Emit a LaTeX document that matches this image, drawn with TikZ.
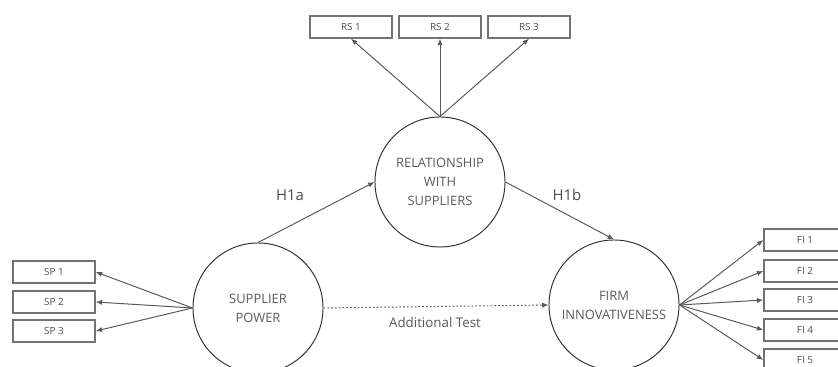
\documentclass[tikz,border=0pt]{standalone}
\usepackage{fontspec}
\setmainfont{Open Sans}
\usetikzlibrary{arrows.meta}

\begin{document}
\begin{tikzpicture}[
    % GLOBAL CFG
    x=0.025cm, y=-0.025cm,
    font=\fontsize{9.2}{13.5}\selectfont,
    >={Latex[length=1.6mm,width=1.3mm]},
    % Styles
    construct/.style={% For the latent constructs
        circle,
        draw=black!80,
        line width=0.7pt,
        minimum size=3.25cm,
        inner sep=0pt,
        align=center,
        text=black!65,
        },
    item/.style={% For the indicator boxes
        rectangle,
        draw=black!55,
        line width=1pt,
        minimum width=2.05cm,
        minimum height=0.55cm,
        inner sep=1pt,
        font=\fontsize{7}{8}\selectfont,
        text=black!70,
        },
    hyp/.style={% For the hypothesis labels
        font=\fontsize{10.6}{12}\selectfont,
        text=black!70,
        },
    note/.style={% For the dotted test label
        font=\fontsize{9.5}{11}\selectfont,
        text=black!65,
        },
    ArrowL/.style={% Loading and path arrows
        ->,
        draw=black!65,
        line width=0.7pt,
        }
    ]

    \useasboundingbox (0,0) rectangle (838,367);

    % Draw the constructs
    \node [construct] (rs) at (440,182) {RELATIONSHIP\\WITH\\SUPPLIERS};
    \node [construct] (sp) at (258,308) {SUPPLIER\\POWER};
    \node [construct] (fi) at (614,305) {FIRM\\INNOVATIVENESS};

    % Draw indicators named rs#, sp#, fi#
    \node [item] (rs1) at (351,27) {RS 1};
    \node [item] (rs2) at (440,27) {RS 2};
    \node [item] (rs3) at (529,27) {RS 3};

    \node [item] (sp1) at (54,272) {SP 1};
    \node [item] (sp2) at (54,302) {SP 2};
    \node [item] (sp3) at (54,331) {SP 3};

    \node [item] (fi1) at (805,240) {FI 1};
    \node [item] (fi2) at (805,271) {FI 2};
    \node [item] (fi3) at (805,300) {FI 3};
    \node [item] (fi4) at (805,330) {FI 4};
    \node [item] (fi5) at (805,360) {FI 5};

    % Draw labels
    \node [hyp] (h1a) at (290,195) {H1a};
    \node [hyp] (h1b) at (567,195) {H1b};
    \node [note] (add) at (435,322) {Additional Test};

% Start connecting all.
    % Loadings
    \draw [ArrowL] (rs.north) -- (rs1.south);
    \draw [ArrowL] (rs.north) -- (rs2.south);
    \draw [ArrowL] (rs.north) -- (rs3.south);

    \draw [ArrowL] (sp.west) -- (sp1.east);
    \draw [ArrowL] (sp.west) -- (sp2.east);
    \draw [ArrowL] (sp.west) -- (sp3.east);

    \draw [ArrowL] (fi.east) -- (fi1.west);
    \draw [ArrowL] (fi.east) -- (fi2.west);
    \draw [ArrowL] (fi.east) -- (fi3.west);
    \draw [ArrowL] (fi.east) -- (fi4.west);
    \draw [ArrowL] (fi.east) -- (fi5.west);

    % Hypotheses
    \draw [ArrowL] (sp.north) -- (rs.west);
    \draw [ArrowL] (rs.east) -- (fi.north);
    \draw [ArrowL, dash pattern=on 1.2pt off 1.5pt] (sp.east) -- (fi.west);

\end{tikzpicture}
\end{document}
